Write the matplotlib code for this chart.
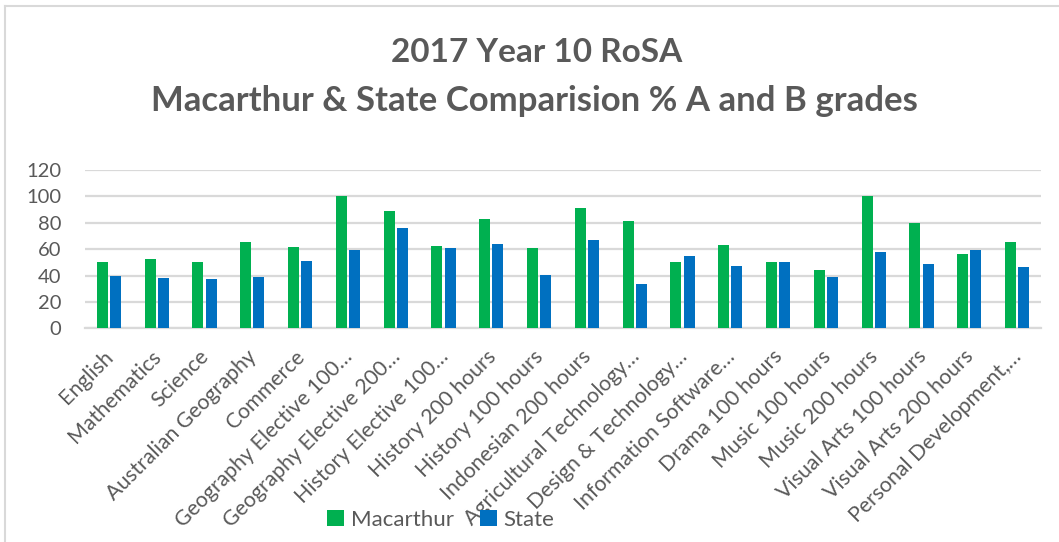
import matplotlib
matplotlib.use("Agg")
import matplotlib.pyplot as plt
import matplotlib.transforms as mtransforms
import numpy as np
from matplotlib.lines import Line2D

categories = ["English", "Mathematics", "Science", "Australian Geography", "Commerce",
              "Geography Elective 100\u2026", "Geography Elective 200\u2026", "History Elective 100\u2026",
              "History 200 hours", "History 100 hours", "Indonesian 200 hours",
              "Agricultural Technology\u2026", "Design & Technology\u2026", "Information Software\u2026",
              "Drama 100 hours", "Music 100 hours", "Music 200 hours", "Visual Arts 100 hours",
              "Visual Arts 200 hours", "Personal Development,\u2026"]
macarthur = [50, 52.7, 50, 65.6, 61.8, 100, 88.9, 62.3, 82.5, 60.5, 90.9, 81.3, 50, 63.3, 50, 44, 100, 79.7, 56.7, 65.6]
state = [39.7, 38.5, 37.2, 38.7, 51.1, 59.5, 75.9, 60.8, 63.8, 40.5, 66.8, 33.7, 54.9, 47.6, 49.9, 39.2, 58.2, 48.6, 59.5, 46.1]
yticks = [0, 20, 40, 60, 80, 100, 120]
title_line1 = "2017 Year 10 RoSA"
title_line2 = "Macarthur & State Comparision % A and B grades"

GREEN = "#00B050"
BLUE = "#0070C0"
TXT = "#595959"
GRID = "#D9D9D9"
FONT = ["Lato", "DejaVu Sans"]

plt.rcParams['font.family'] = FONT

W, H = 1059, 542
fig = plt.figure(figsize=(W / 100, H / 100), dpi=100)
ax = fig.add_axes([85 / W, 1 - 328.3 / H, (1041 - 85) / W, (328.3 - 170) / H])

x = np.arange(len(categories))
w = 0.23
off = 0.139
ax.bar(x - off, macarthur, w, color=GREEN, label="Macarthur", zorder=3)
ax.bar(x + off, state, w, color=BLUE, label="State", zorder=3)

ax.set_xlim(-0.5, len(categories) - 0.5)
ax.set_ylim(0, 120)
ax.set_yticks(yticks)
ax.set_yticklabels([str(v) for v in yticks])
ax.yaxis.grid(True, color=GRID, linewidth=1.6, zorder=0)
ax.set_axisbelow(True)
for s in ["top", "right", "left"]:
    ax.spines[s].set_visible(False)
ax.spines["bottom"].set_color(GRID)
ax.spines["bottom"].set_linewidth(1.6)
ax.tick_params(axis='y', length=0, pad=17, labelsize=14.5, labelcolor=TXT)
ax.tick_params(axis='x', length=0, pad=6, labelsize=15.3, labelcolor=TXT)
ax.set_xticks(x)
ax.set_xticklabels(categories, rotation=45, ha='right', rotation_mode='anchor')
shift = mtransforms.ScaledTranslation(-4 / 72, -7 / 72, fig.dpi_scale_trans)
for lbl in ax.get_xticklabels():
    lbl.set_transform(lbl.get_transform() + shift)

fig.text(537 / W, 1 - 62.3 / H, title_line1, ha='center', va='baseline',
         fontsize=24, fontweight='bold', color=TXT)
fig.text(534.5 / W, 1 - 111 / H, title_line2, ha='center', va='baseline',
         fontsize=25, fontweight='bold', color=TXT)

leg = fig.legend(loc='center', bbox_to_anchor=(441 / W, 1 - 520 / H), ncol=2, frameon=False,
                 fontsize=16, handlelength=0.75, handleheight=0.75, handletextpad=0.3,
                 columnspacing=1.2, labelcolor=TXT)

# chart border (top and left edges visible in reference)
fig.add_artist(Line2D([5 / W, 5 / W], [0, 1 - 6 / H], transform=fig.transFigure, color=GRID, linewidth=1.5))
fig.add_artist(Line2D([5 / W, 1], [1 - 6 / H, 1 - 6 / H], transform=fig.transFigure, color=GRID, linewidth=1.5))

fig.savefig("out.png", dpi=100, facecolor="white")
